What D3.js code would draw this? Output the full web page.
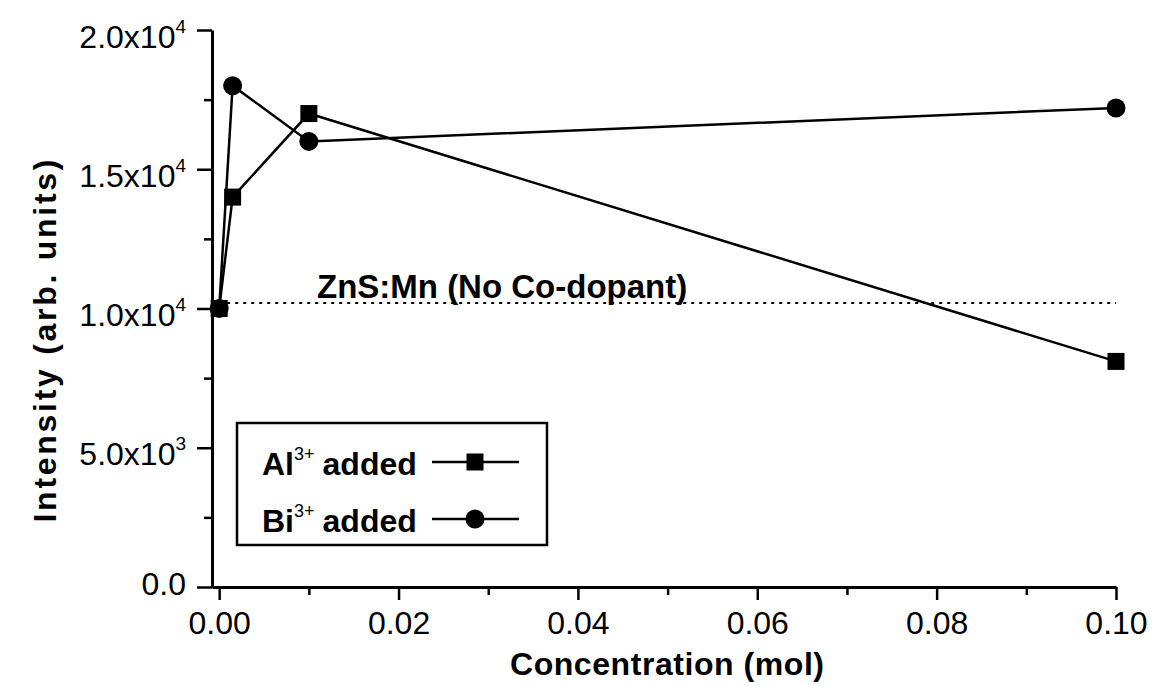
<!DOCTYPE html>
<html>
<head>
<meta charset="utf-8">
<script src="https://cdn.jsdelivr.net/npm/d3@7"></script>
<style>
  body { margin: 0; background: #fff; }
  svg { display: block; font-family: "Liberation Sans", Arial, sans-serif; }
</style>
</head>
<body>
<div id="chart"></div>
<script>
// data
const concentration = [0, 0.0015, 0.01, 0.1];
const alIntensity = [10000, 14000, 17000, 8100];
const biIntensity = [10000, 18000, 16000, 17200];
const refIntensity = 10200;
const refLabel = 'ZnS:Mn (No Co-dopant)';

const xTicks = [0, 0.02, 0.04, 0.06, 0.08, 0.1];
const xTickLabels = ['0.00', '0.02', '0.04', '0.06', '0.08', '0.10'];
const xMinor = [0.01, 0.03, 0.05, 0.07, 0.09];
const yTicks = [0, 5000, 10000, 15000, 20000];
const yTickBase = ['0.0', '5.0x10', '1.0x10', '1.5x10', '2.0x10'];
const yTickSup = ['', '3', '4', '4', '4'];
const yMinor = [2500, 7500, 12500, 17500];

const series = [
  { name: 'Al', values: alIntensity, symbol: 'square' },
  { name: 'Bi', values: biIntensity, symbol: 'circle' }
];

const dims = { width: 1171, height: 685 };
const plot = { left: 212, right: 1116, top: 30, bottom: 587 };

const svg = d3.select('#chart')
  .append('svg')
    .attr('width', dims.width)
    .attr('height', dims.height);

const x = d3.scaleLinear().domain([-0.0008, 0.1]).range([plot.left, plot.right]);
const y = d3.scaleLinear().domain([0, 20000]).range([plot.bottom, plot.top]);

//----------------- axes -----------------//
const xAxisG = svg.append('g').attr('transform', `translate(0, ${plot.bottom})`);
xAxisG.call(d3.axisBottom(x).tickValues(xTicks).tickSize(13).tickSizeOuter(0)
  .tickFormat((d, i) => xTickLabels[i]));
xAxisG.append('g').call(d3.axisBottom(x).tickValues(xMinor).tickSize(8).tickFormat(''))
  .select('.domain').remove();

const yAxisG = svg.append('g').attr('transform', `translate(${plot.left}, 0)`);
yAxisG.call(d3.axisLeft(y).tickValues(yTicks).tickSize(15).tickSizeOuter(0).tickFormat(''));
yAxisG.append('g').call(d3.axisLeft(y).tickValues(yMinor).tickSize(8).tickFormat(''))
  .select('.domain').remove();

svg.selectAll('.domain').attr('stroke', '#000').attr('stroke-width', 3);
svg.selectAll('.tick line').attr('stroke', '#000').attr('stroke-width', 2.5);

xAxisG.selectAll('.tick text')
  .attr('font-size', 32)
  .attr('fill', '#000')
  .attr('font-family', '"Liberation Sans", Arial, sans-serif')
  .attr('y', 24);

// y labels like 1.5x10^4 with a raised exponent
yAxisG.selectAll('.tick text').each(function(d, i) {
  const t = d3.select(this)
    .attr('font-size', 32)
    .attr('fill', '#000')
    .attr('font-family', '"Liberation Sans", Arial, sans-serif')
    .attr('x', -26)
    .attr('dy', null)
    .attr('y', yTickSup[i] ? 17 : 7)
    .attr('text-anchor', 'end');
  t.text(null);
  t.append('tspan').text(yTickBase[i]);
  if (yTickSup[i]) {
    t.append('tspan').attr('font-size', 19).attr('dy', -15).text(yTickSup[i]);
  }
});

// axis titles
svg.append('text')
  .attr('x', (plot.left + plot.right) / 2 + 3)
  .attr('y', 675)
  .attr('text-anchor', 'middle')
  .attr('font-size', 32)
  .attr('font-weight', 'bold')
  .attr('textLength', 314)
  .text('Concentration (mol)');

svg.append('text')
  .attr('transform', 'translate(56, 341) rotate(-90)')
  .attr('text-anchor', 'middle')
  .attr('font-size', 32)
  .attr('font-weight', 'bold')
  .attr('textLength', 363)
  .text('Intensity (arb. units)');

//----------------- reference line -----------------//
svg.append('line')
  .attr('x1', x(0)).attr('x2', x(0.1))
  .attr('y1', y(refIntensity)).attr('y2', y(refIntensity))
  .attr('stroke', '#000')
  .attr('stroke-width', 2)
  .attr('stroke-dasharray', '3,5');

svg.append('text')
  .attr('x', 317)
  .attr('y', y(refIntensity) - 5)
  .attr('font-size', 33)
  .attr('font-weight', 'bold')
  .text(refLabel);

//----------------- series -----------------//
const line = d3.line()
  .x((d, i) => x(concentration[i]))
  .y(d => y(d));

series.forEach(s => {
  svg.append('path')
    .datum(s.values)
    .attr('d', line)
    .attr('fill', 'none')
    .attr('stroke', '#000')
    .attr('stroke-width', 2.5);
});

const drawMarker = (g, symbol, cx, cy) => {
  if (symbol === 'square') {
    g.append('rect')
      .attr('x', cx - 8.5).attr('y', cy - 8.5)
      .attr('width', 17).attr('height', 17)
      .attr('fill', '#000');
  } else {
    g.append('circle')
      .attr('cx', cx).attr('cy', cy).attr('r', 9.5)
      .attr('fill', '#000');
  }
};

// circles first so the shared starting square sits on top
const markers = svg.append('g');
[series[1], series[0]].forEach(s => {
  s.values.forEach((v, i) => drawMarker(markers, s.symbol, x(concentration[i]), y(v)));
});

//----------------- legend -----------------//
const legend = svg.append('g');
legend.append('rect')
  .attr('x', 237).attr('y', 423)
  .attr('width', 310).attr('height', 122)
  .attr('fill', '#fff')
  .attr('stroke', '#000')
  .attr('stroke-width', 2.5);

series.forEach((s, i) => {
  const rowY = 462 + i * 57;
  const label = legend.append('text')
    .attr('x', 262)
    .attr('y', rowY + 13)
    .attr('font-size', 32)
    .attr('font-weight', 'bold');
  label.append('tspan').text(s.name);
  label.append('tspan').attr('font-size', 18).attr('font-weight', 'normal').attr('dy', -15).text('3+');
  label.append('tspan').attr('dy', 15).attr('dx', 8).text('added');

  legend.append('line')
    .attr('x1', 432).attr('x2', 519)
    .attr('y1', rowY).attr('y2', rowY)
    .attr('stroke', '#000')
    .attr('stroke-width', 2.5);
  drawMarker(legend, s.symbol, 475, rowY);
});
</script>
</body>
</html>
